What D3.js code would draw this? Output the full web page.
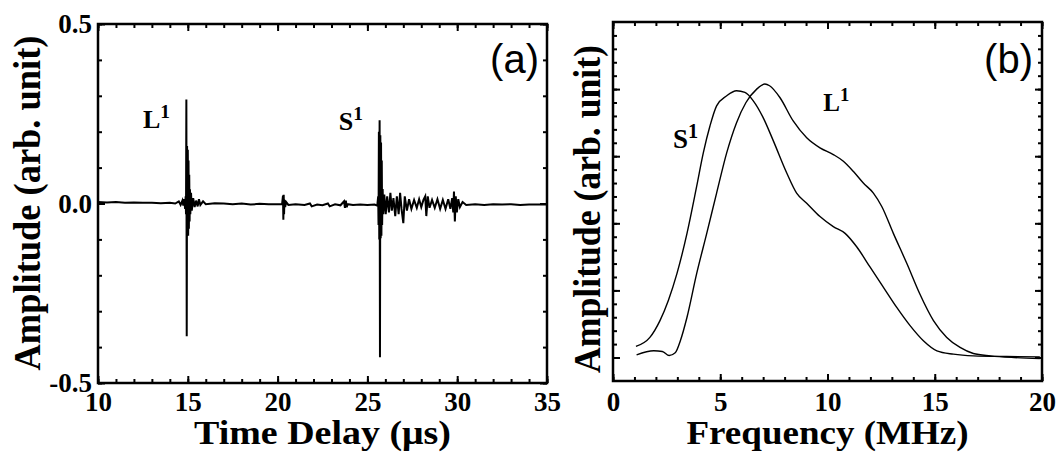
<!DOCTYPE html>
<html>
<head>
<meta charset="utf-8">
<script src="https://cdn.jsdelivr.net/npm/d3@7"></script>
<style>
  body { margin: 0; background: #fff; }
  text { font-family: "Liberation Serif", "Times New Roman", serif; font-weight: bold; fill: #000; }
  .panel-tag { font-family: "Liberation Sans", Arial, sans-serif; font-weight: normal; }
</style>
</head>
<body>
<svg id="chart" width="1062" height="459"></svg>
<script>
// tick values / labels
var timeTicks = [10, 15, 20, 25, 30, 35]
var ampTicksA = [0.5, 0.0, -0.5]
var ampTickTextA = ['0.5', '0.0', '-0.5']
var freqTicks = [0, 5, 10, 15, 20]

// (a) time trace, [time in us, amplitude]
var waveform = [
  [10, 0.004], [10.5, 0.003], [11, 0.004], [11.5, 0.002], [12, 0.003], [12.5, 0.002],
  [13, 0.002], [13.5, 0.001], [14, 0.002], [14.3, 0.0], [14.5, 0.006], [14.6, -0.004],
  [14.7, 0.008], [14.75, -0.006], [14.8, 0.012], [14.85, -0.015], [14.88, 0.02], [14.9, -0.03],
  [14.92, 0.29], [14.94, -0.37], [14.96, 0.16], [14.98, -0.08], [15.0, 0.15], [15.02, -0.09],
  [15.04, 0.12], [15.06, -0.07], [15.08, 0.08], [15.1, -0.05], [15.12, 0.04], [15.14, -0.03],
  [15.18, 0.03], [15.22, -0.02], [15.3, 0.015], [15.38, -0.01], [15.46, 0.008], [15.55, -0.008],
  [15.62, 0.012], [15.7, -0.004], [15.85, 0.006], [16, -0.002],
  [16.5, 0.001], [17, 0.0], [17.5, -0.002], [18, 0.0], [18.5, -0.003], [19, -0.001],
  [19.5, -0.002], [20, -0.002], [20.25, -0.002], [20.3, 0.022], [20.32, -0.045], [20.34, 0.024],
  [20.36, -0.03], [20.38, 0.01], [20.42, -0.01], [20.48, 0.004], [20.6, -0.004], [21, -0.002],
  [21.5, -0.004], [21.8, 0.0], [21.9, -0.008], [22.2, -0.003], [22.5, -0.005], [22.8, 0.0],
  [22.9, -0.008], [23.2, -0.002], [23.5, -0.005], [23.7, 0.006], [23.75, -0.012], [23.8, 0.008],
  [23.85, -0.01], [23.9, -0.002], [24.2, -0.004], [24.6, -0.003], [25.0, -0.004], [25.4, -0.003],
  [25.55, -0.006], [25.6, 0.02], [25.62, -0.06], [25.64, 0.2], [25.66, -0.1], [25.68, 0.232],
  [25.7, -0.428], [25.72, 0.19], [25.74, -0.097], [25.76, 0.17], [25.78, -0.09], [25.8, 0.12],
  [25.82, -0.06], [25.85, 0.04], [25.88, -0.03], [25.94, 0.025], [26.02, -0.03], [26.1, 0.02],
  [26.2, -0.025], [26.28, 0.03], [26.36, -0.02], [26.45, 0.015], [26.55, -0.035], [26.64, 0.02],
  [26.74, -0.03], [26.82, 0.03], [26.9, -0.015], [27.0, -0.055], [27.08, 0.02], [27.2, -0.02],
  [27.32, 0.012], [27.45, -0.015], [27.6, 0.01], [27.75, -0.012], [27.88, 0.012], [28.0, -0.01],
  [28.12, 0.01], [28.22, 0.02], [28.28, -0.035], [28.36, 0.02], [28.46, -0.012], [28.6, 0.01],
  [28.75, -0.012], [28.9, 0.012], [29.05, -0.015], [29.2, 0.01], [29.35, -0.015], [29.5, 0.012],
  [29.62, -0.015], [29.72, 0.015], [29.78, -0.025], [29.82, 0.033], [29.87, -0.05], [29.92, 0.02],
  [29.98, -0.025], [30.06, 0.012], [30.15, -0.01], [30.3, 0.004], [30.5, -0.004], [31, -0.002],
  [31.5, -0.004], [32, -0.002], [32.5, -0.003], [33, -0.002], [33.5, -0.004], [34, -0.003],
  [34.5, -0.003], [35, -0.003]
]

// (b) spectra, [frequency in MHz, amplitude]
var spectrumS1 = [
  [1.07, 0.033], [1.72, 0.06], [2.19, 0.11], [2.58, 0.17], [2.98, 0.25], [3.45, 0.37],
  [3.9, 0.51], [4.21, 0.61], [4.52, 0.69], [4.83, 0.75], [5.3, 0.78], [5.76, 0.795],
  [6.15, 0.79], [6.54, 0.765], [7.0, 0.715], [7.48, 0.645], [8.1, 0.55], [8.56, 0.49],
  [9.03, 0.46], [9.65, 0.42], [10.27, 0.39], [10.82, 0.37], [11.36, 0.33], [11.98, 0.27],
  [12.6, 0.21], [13.22, 0.15], [13.85, 0.095], [14.47, 0.05], [15.1, 0.02], [15.87, 0.01],
  [16.8, 0.005], [18.35, 0.003], [19.9, 0.002]
]
var spectrumL1 = [
  [1.1, 0.008], [1.9, 0.02], [2.3, 0.018], [2.62, 0.006], [2.9, 0.014], [3.14, 0.05],
  [3.45, 0.12], [3.9, 0.25], [4.37, 0.37], [4.83, 0.49], [5.3, 0.61], [5.76, 0.70],
  [6.2, 0.76], [6.7, 0.80], [7.08, 0.815], [7.3, 0.81], [7.78, 0.775], [8.4, 0.705],
  [9.03, 0.655], [9.65, 0.625], [10.27, 0.605], [10.74, 0.585], [11.2, 0.555], [11.67, 0.52],
  [12.14, 0.49], [12.53, 0.45], [13.07, 0.37], [13.7, 0.28], [14.3, 0.19], [14.94, 0.11],
  [15.56, 0.06], [16.18, 0.03], [16.8, 0.012], [17.6, 0.005], [18.7, 0.0], [19.9, -0.003]
]

var svg = d3.select('#chart')

// draws box + inward ticks on all four sides
function frame(x, y, xMinor, xMajor, yMinor, yMajor) {
  var g = svg.append('g')
  var r = x.range(), t = y.range()
  var sides = [
    [d3.axisBottom(x), 'translate(0,' + t[0] + ')', xMinor, xMajor],
    [d3.axisTop(x), 'translate(0,' + t[1] + ')', xMinor, xMajor],
    [d3.axisLeft(y), 'translate(' + r[0] + ',0)', yMinor, yMajor],
    [d3.axisRight(y), 'translate(' + r[1] + ',0)', yMinor, yMajor]
  ]
  sides.forEach(function (s) {
    [[s[2], -4], [s[3], -7]].forEach(function (p) {
      var ax = g.append('g').attr('transform', s[1])
        .call(s[0].tickValues(p[0]).tickSize(p[1]).tickFormat(''))
      ax.select('.domain').remove()
      ax.selectAll('line').attr('stroke', '#000').attr('stroke-width', 2)
    })
  })
  g.append('rect')
    .attr('x', r[0]).attr('y', t[1])
    .attr('width', r[1] - r[0]).attr('height', t[0] - t[1])
    .attr('fill', 'none').attr('stroke', '#000').attr('stroke-width', 2.5)
}

function labelAxis(axis, transform, size) {
  var ax = svg.append('g').attr('transform', transform).call(axis)
  ax.select('.domain').remove()
  ax.attr('font-family', null).attr('font-size', null)
  ax.selectAll('text').style('font-size', size + 'px')
  return ax
}

function tagText(x, y, base, sup, size) {
  var t = svg.append('text').attr('x', x).attr('y', y).style('font-size', size + 'px').text(base)
  t.append('tspan').attr('dy', -size * 0.38).style('font-size', (size * 0.75) + 'px').text(sup)
}

// ---- panel (a)
var xa = d3.scaleLinear().domain([10, 35]).range([98, 547])
var ya = d3.scaleLinear().domain([-0.5, 0.5]).range([383, 24])

frame(xa, ya, d3.range(10, 36, 1), timeTicks, d3.range(-0.5, 0.51, 0.1), ampTicksA)

labelAxis(d3.axisBottom(xa).tickValues(timeTicks).tickSize(0).tickPadding(9).tickFormat(d3.format('d')),
  'translate(0,383)', 27)
labelAxis(d3.axisLeft(ya).tickValues(ampTicksA).tickSize(0).tickPadding(6)
  .tickFormat(function (d, i) { return ampTickTextA[i] }), 'translate(98,0)', 27)

svg.append('path')
  .datum(waveform)
  .attr('fill', 'none').attr('stroke', '#000').attr('stroke-width', 2)
  .attr('d', d3.line().x(function (d) { return xa(d[0]) }).y(function (d) { return ya(d[1]) }))

tagText(xa(12.5), ya(0.21), 'L', '1', 26)
tagText(xa(23.4), ya(0.205), 'S', '1', 26)

svg.append('text').attr('class', 'panel-tag')
  .attr('x', 539).attr('y', 73).attr('text-anchor', 'end')
  .style('font-size', '40px').text('(a)')

svg.append('text').attr('x', (xa.range()[0] + xa.range()[1]) / 2).attr('y', 444)
  .attr('text-anchor', 'middle').attr('textLength', 257).attr('lengthAdjust', 'spacingAndGlyphs')
  .style('font-size', '33px').text('Time Delay (\u03bcs)')

svg.append('text').attr('transform', 'translate(40,203) rotate(-90)')
  .attr('text-anchor', 'middle').attr('textLength', 335).attr('lengthAdjust', 'spacingAndGlyphs')
  .style('font-size', '37px').text('Amplitude (arb. unit)')

// ---- panel (b)
var xb = d3.scaleLinear().domain([0, 20]).range([613, 1042])
var yb = d3.scaleLinear().domain([-0.07, 1.0]).range([381, 22])

frame(xb, yb, d3.range(0, 21, 1), freqTicks, d3.range(0, 0.97, 0.04), d3.range(0, 0.81, 0.2))

labelAxis(d3.axisBottom(xb).tickValues(freqTicks).tickSize(0).tickPadding(11).tickFormat(d3.format('d')),
  'translate(0,381)', 27)

var lineB = d3.line().curve(d3.curveMonotoneX)
  .x(function (d) { return xb(d[0]) }).y(function (d) { return yb(d[1]) })

svg.selectAll('path.spec')
  .data([spectrumS1, spectrumL1])
  .enter()
  .append('path')
  .attr('class', 'spec')
  .attr('fill', 'none').attr('stroke', '#000').attr('stroke-width', 1.4)
  .attr('d', lineB)

tagText(xb(2.8), yb(0.625), 'S', '1', 27)
tagText(xb(9.8), yb(0.735), 'L', '1', 25)

svg.append('text').attr('class', 'panel-tag')
  .attr('x', 1033).attr('y', 73).attr('text-anchor', 'end')
  .style('font-size', '40px').text('(b)')

svg.append('text').attr('x', (xb.range()[0] + xb.range()[1]) / 2).attr('y', 444)
  .attr('text-anchor', 'middle').attr('textLength', 282).attr('lengthAdjust', 'spacingAndGlyphs')
  .style('font-size', '33px').text('Frequency (MHz)')

svg.append('text').attr('transform', 'translate(600,209) rotate(-90)')
  .attr('text-anchor', 'middle').attr('textLength', 328).attr('lengthAdjust', 'spacingAndGlyphs')
  .style('font-size', '37px').text('Amplitude (arb. unit)')
</script>
</body>
</html>
